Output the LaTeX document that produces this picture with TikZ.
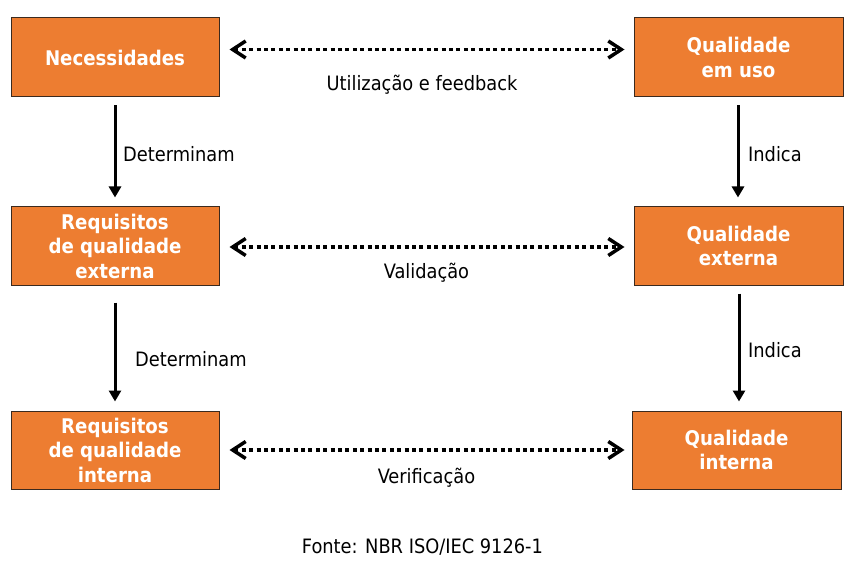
\documentclass[tikz,border=0pt]{standalone}
\usepackage{fontspec}
\setmainfont{DejaVu Sans Condensed}
\usetikzlibrary{arrows.meta}
\definecolor{boxorange}{HTML}{ED7D31}
\definecolor{boxedge}{HTML}{3B2A1E}
\begin{document}
\begin{tikzpicture}[x=1pt,y=-1pt,
  qbox/.style={draw=boxedge, line width=1pt, fill=boxorange, minimum height=78pt,
    inner sep=0pt, text=white, font=\bfseries\fontsize{20.2}{24.5}\selectfont, align=center},
  solidarrow/.style={line width=3pt, -{Triangle[width=12pt,length=11pt]}},
  dotarrow/.style={line width=3.5pt, dash pattern=on 4pt off 3.4pt,
    {Straight Barb[length=13pt,width=17pt]}-{Straight Barb[length=13pt,width=17pt]}},
  lbl/.style={font=\fontsize{19.8}{22}\selectfont, inner sep=0pt}
]
\useasboundingbox (0,0) rectangle (857,564);

% boxes
\node[qbox, minimum width=208pt, minimum height=79pt] (nec) at (115,57.5) {Necessidades};
\node[qbox, minimum width=209pt, minimum height=79pt] (qeu) at (738.5,57.5) {Qualidade\\em uso};
\node[qbox, minimum width=208pt] (rqe) at (115,246) {Requisitos\\de qualidade\\externa};
\node[qbox, minimum width=209pt] (qe) at (738.5,246) {Qualidade\\externa};
\node[qbox, minimum width=208pt] (rqi) at (115,450) {Requisitos\\de qualidade\\interna};
\node[qbox, minimum width=209pt] (qi) at (736.5,450) {Qualidade\\interna};

% vertical arrows
\draw[solidarrow] ([yshift=-8pt]nec.south) -- ([yshift=9pt]rqe.north);
\draw[solidarrow] ([yshift=-17pt]rqe.south) -- ([yshift=9pt]rqi.north);
\draw[solidarrow] ([yshift=-8pt,xshift=-0.5pt]qeu.south) -- ([yshift=9pt,xshift=-0.5pt]qe.north);
\draw[solidarrow] ([yshift=-8pt,xshift=0.5pt]qe.south) -- ([yshift=9pt,xshift=2.5pt]qi.north);

% dotted double arrows
\draw[dotarrow] ([xshift=10pt,yshift=8pt]nec.east) -- ([xshift=-9pt,yshift=8pt]qeu.west);
\draw[dotarrow] ([xshift=10pt,yshift=-1pt]rqe.east) -- ([xshift=-9pt,yshift=-1pt]qe.west);
\draw[dotarrow] ([xshift=10pt]rqi.east) -- ([xshift=-7pt]qi.west);

% labels
\node[lbl, anchor=base] (ufb) at (422,91) {Utilização e feedback};
\node[lbl, anchor=base west] (det1) at (123,162) {Determinam};
\node[lbl, anchor=base west] (ind1) at (748,162) {Indica};
\node[lbl, anchor=base] (val) at (426.5,278) {Validação};
\node[lbl, anchor=base west] (det2) at (135,366) {Determinam};
\node[lbl, anchor=base west] (ind2) at (748,357) {Indica};
\node[lbl, anchor=base] (ver) at (426.5,483) {Verificação};
\node[lbl, anchor=base] (fonte) at (422.5,553) {Fonte: NBR ISO/IEC 9126-1};
\end{tikzpicture}
\end{document}
